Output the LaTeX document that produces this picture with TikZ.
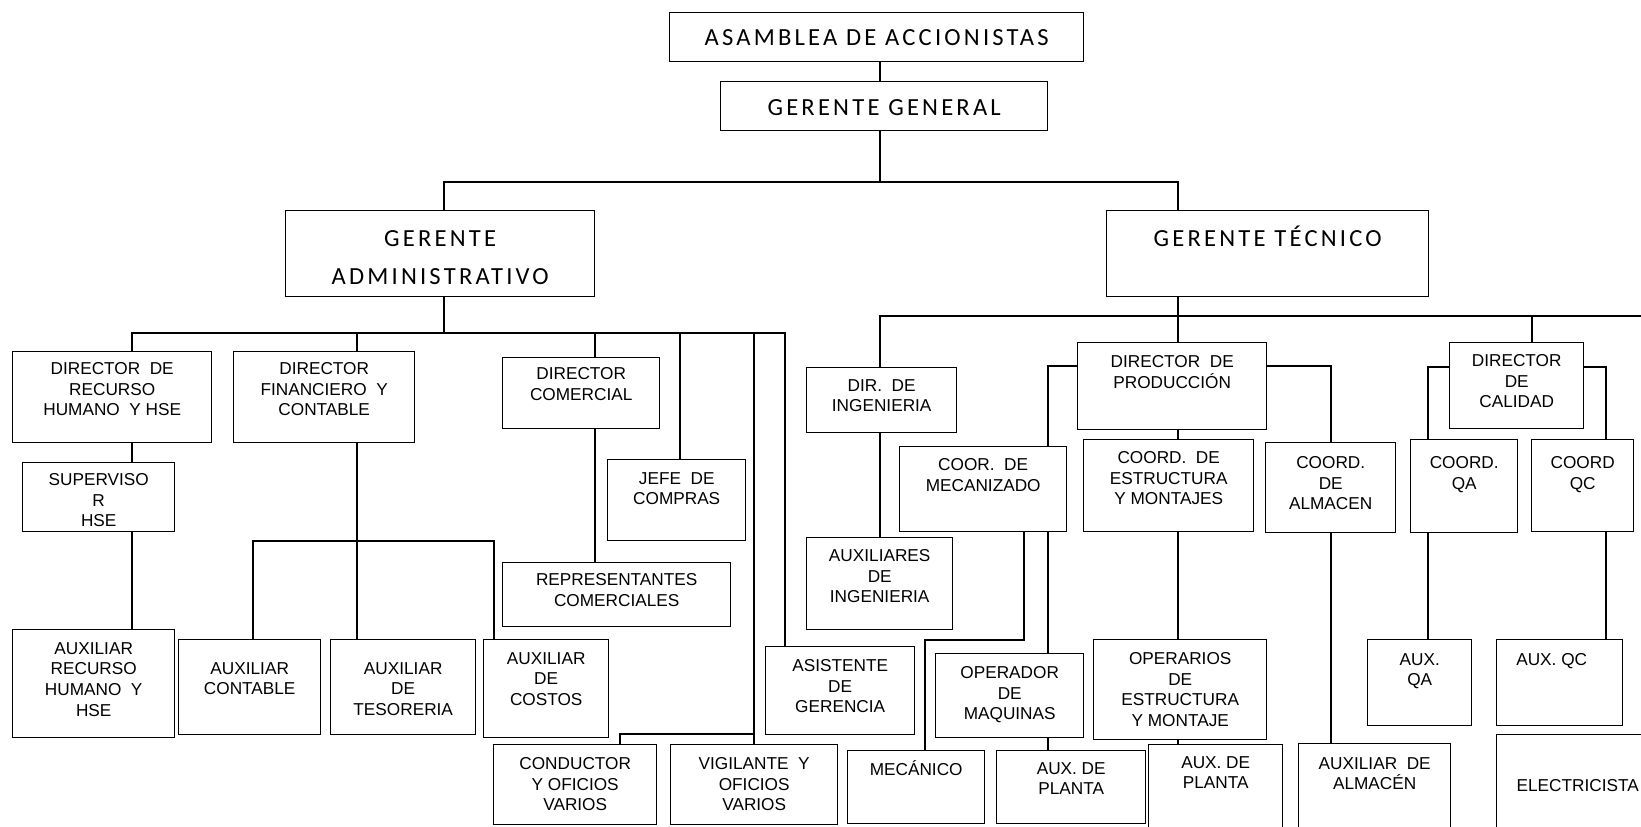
\documentclass[tikz,border=0pt]{standalone}
\usepackage{fontspec}
\setmainfont{Liberation Sans}
\newfontfamily\calib{Carlito}[LetterSpace=13]
\tikzset{
  box/.style 2 args={draw, line width=0.8pt, fill=white, anchor=north west, inner sep=0pt,
    minimum width=#1*0.02cm, minimum height=#2*0.02cm},
  roletext/.style={anchor=north, align=center, inner sep=0pt, yshift=-#1*0.02cm,
    font=\fontsize{9.8}{11.8}\selectfont},
  headtext/.style={roletext=#1, font=\calib\fontsize{14}{21.5}\selectfont},
  link/.style={line width=0.8pt}
}
\begin{document}
\begin{tikzpicture}[x=0.02cm, y=-0.02cm]
    \useasboundingbox (0,0) rectangle (1641,826);
    \clip (0,0) rectangle (1641,826);

    \node[box={414}{49}, label={[headtext=17]north:ASAMBLEA DE ACCIONISTAS}] (asamblea) at (669,12) {};
    \node[box={327}{49}, label={[headtext=18]north:GERENTE GENERAL}] (general) at (720,81) {};
    \node[box={309}{86}, label={[headtext=20]north:{GERENTE\\ADMINISTRATIVO}}] (admin) at (285,210) {};
    \node[box={322}{86}, label={[headtext=16]north:GERENTE TÉCNICO}] (tecnico) at (1106,210) {};

    \node[box={199}{91}, label={[roletext=11]north:{DIRECTOR\ \ DE\\RECURSO\\HUMANO\ \ Y HSE}}] (dirRH) at (12,351) {};
    \node[box={181}{91}, label={[roletext=11]north:{DIRECTOR\\FINANCIERO\ \ Y\\CONTABLE}}] (dirFin) at (233,351) {};
    \node[box={152}{69}, label={[roletext=11]north:{SUPERVISO\\R\\HSE}}] (supHSE) at (22,462) {};
    \node[box={157}{71}, label={[roletext=10]north:{DIRECTOR\\COMERCIAL}}] (dirCom) at (502,357) {};
    \node[box={138}{81}, label={[roletext=13]north:{JEFE\ \ DE\\COMPRAS}}] (jefe) at (607,459) {};
    \node[box={228}{64}, label={[roletext=11]north:{REPRESENTANTES\\COMERCIALES}}] (repres) at (502,562) {};
    \node[box={162}{108}, label={[roletext=13]north:{AUXILIAR\\RECURSO\\HUMANO\ \ Y\\HSE}}] (auxRH) at (12,629) {};
    \node[box={142}{95}, label={[roletext=23]north:{AUXILIAR\\CONTABLE}}] (auxCont) at (178,639) {};
    \node[box={145}{95}, label={[roletext=23]north:{AUXILIAR\\DE\\TESORERIA}}] (auxTes) at (330,639) {};
    \node[box={125}{98}, label={[roletext=13]north:{AUXILIAR\\DE\\COSTOS}}] (auxCost) at (483,639) {};
    \node[box={163}{80}, label={[roletext=13]north:{CONDUCTOR\\Y OFICIOS\\VARIOS}}] (conductor) at (493,744) {};
    \node[box={167}{80}, label={[roletext=13]north:{VIGILANTE\ \ Y\\OFICIOS\\VARIOS}}] (vigilante) at (670,744) {};
    \node[box={149}{88}, label={[roletext=13]north:{ASISTENTE\\DE\\GERENCIA}}] (asistente) at (765,646) {};

    \node[box={150}{65}, label={[roletext=12]north:{DIR.\ \ DE\\INGENIERIA}}] (dirIng) at (806,367) {};
    \node[box={146}{92}, label={[roletext=12]north:{AUXILIARES\\DE\\INGENIERIA}}] (auxIng) at (806,537) {};
    \node[box={167}{85}, label={[roletext=12]north:{COOR.\ \ DE\\MECANIZADO}}] (mecanizado) at (899,446) {};
    \node[box={189}{87}, label={[roletext=13]north:{DIRECTOR\ \ DE\\PRODUCCIÓN}}] (dirProd) at (1077,342) {};
    \node[box={170}{92}, label={[roletext=12]north:{COORD.\ \ DE\\ESTRUCTURA\\Y MONTAJES}}] (coordEst) at (1083,439) {};
    \node[box={130}{90}, label={[roletext=14]north:{COORD.\\DE\\ALMACEN}}] (almacen) at (1265,442) {};
    \node[box={134}{86}, label={[roletext=12]north:{DIRECTOR\\DE\\CALIDAD}}] (dirCal) at (1449,342) {};
    \node[box={107}{93}, label={[roletext=17]north:{COORD.\\QA}}] (coordQA) at (1410,439) {};
    \node[box={102}{92}, label={[roletext=17]north:{COORD\\QC}}] (coordQC) at (1531,439) {};
    \node[box={148}{84}, label={[roletext=13]north:{OPERADOR\\DE\\MAQUINAS}}] (operador) at (935,653) {};
    \node[box={173}{100}, label={[roletext=13]north:{OPERARIOS\\DE\\ESTRUCTURA\\Y MONTAJE}}] (operarios) at (1093,639) {};
    \node[box={137}{73}, label={[roletext=10]north:MECÁNICO}] (mecanico) at (847,750) {};
    \node[box={149}{73}, label={[roletext=12]north:{AUX. DE\\PLANTA}}] (planta1) at (996,750) {};
    \node[box={134}{100}, label={[roletext=12]north:{AUX. DE\\PLANTA}}] (planta2) at (1148,744) {};
    \node[box={104}{86}, label={[roletext=14]north:{AUX.\\QA}}] (auxQA) at (1367,639) {};
    \node[box={126}{86}, label={[roletext=14, xshift=-0.16cm]north:AUX. QC}] (auxQC) at (1496,639) {};
    \node[box={152}{100}, label={[roletext=14]north:{AUXILIAR\ \ DE\\ALMACÉN}}] (auxAlm) at (1298,743) {};
    \node[box={162}{110}, label={[roletext=45]north:ELECTRICISTA}] (electric) at (1496,734) {};

    \coordinate (g0) at (880,182);
    \coordinate (ga) at (444,182);
    \coordinate (gt) at (1178,182);
    \draw[link] (asamblea.south -| g0) -- (general.north -| g0);
    \draw[link] (general.south -| g0) -- (g0);
    \draw[link] (ga |- admin.north) -- (ga) -- (gt) -- (gt |- tecnico.north);

    \coordinate (ab) at (444,333);
    \coordinate (a1) at (132,333);
    \coordinate (a2) at (357,333);
    \coordinate (a3) at (595,333);
    \coordinate (a4) at (680,333);
    \coordinate (a5) at (754,333);
    \coordinate (a6) at (785,333);
    \draw[link] (admin.south -| ab) -- (ab);
    \draw[link] (a1 |- dirRH.north) -- (a1) -- (a6) -- (a6 |- asistente.north);
    \foreach \p/\q in {a2/dirFin, a3/dirCom, a4/jefe, a5/vigilante}
        \draw[link] (\p) -- (\p |- \q.north);
    \draw[link] (a1 |- dirRH.south) -- (a1 |- supHSE.north);
    \draw[link] (a1 |- supHSE.south) -- (a1 |- auxRH.north);
    \draw[link] (a2 |- dirFin.south) -- (a2 |- auxTes.north);
    \coordinate (f1) at (253,541);
    \coordinate (f2) at (494,541);
    \draw[link] (f1 |- auxCont.north) -- (f1) -- (f2) -- (f2 |- auxCost.north);
    \draw[link] (a3 |- dirCom.south) -- (a3 |- repres.north);
    \coordinate (v1) at (754,734);
    \coordinate (v2) at (620,734);
    \draw[link] (v1) -- (v2) -- (v2 |- conductor.north);

    \coordinate (tb) at (1178,316);
    \coordinate (t1) at (880,316);
    \coordinate (t2) at (1532,316);
    \coordinate (t3) at (1660,316);
    \draw[link] (tecnico.south -| tb) -- (tb);
    \draw[link] (t1 |- dirIng.north) -- (t1) -- (t3);
    \draw[link] (tb) -- (tb |- dirProd.north);
    \draw[link] (t2) -- (t2 |- dirCal.north);
    \draw[link] (t1 |- dirIng.south) -- (t1 |- auxIng.north);

    \coordinate (p1) at (1048,366);
    \coordinate (p2) at (1331,366);
    \draw[link] (dirProd.west |- p1) -- (p1) -- (p1 |- mecanizado.north);
    \draw[link] (p1 |- mecanizado.south) -- (p1 |- operador.north);
    \draw[link] (p1 |- operador.south) -- (p1 |- planta1.north);
    \draw[link] (dirProd.east |- p2) -- (p2) -- (p2 |- almacen.north);
    \draw[link] (p2 |- almacen.south) -- (p2 |- auxAlm.north);
    \draw[link] (tb |- dirProd.south) -- (tb |- coordEst.north);
    \draw[link] (tb |- coordEst.south) -- (tb |- operarios.north);
    \draw[link] (tb |- operarios.south) -- (tb |- planta2.north);
    \coordinate (m1) at (1024,640);
    \coordinate (m2) at (925,640);
    \draw[link] (m1 |- mecanizado.south) -- (m1) -- (m2) -- (m2 |- mecanico.north);

    \coordinate (c1) at (1428,367);
    \coordinate (c2) at (1606,367);
    \draw[link] (dirCal.west |- c1) -- (c1) -- (c1 |- coordQA.north);
    \draw[link] (dirCal.east |- c2) -- (c2) -- (c2 |- coordQC.north);
    \draw[link] (c1 |- coordQA.south) -- (c1 |- auxQA.north);
    \draw[link] (c2 |- coordQC.south) -- (c2 |- auxQC.north);
\end{tikzpicture}
\end{document}
